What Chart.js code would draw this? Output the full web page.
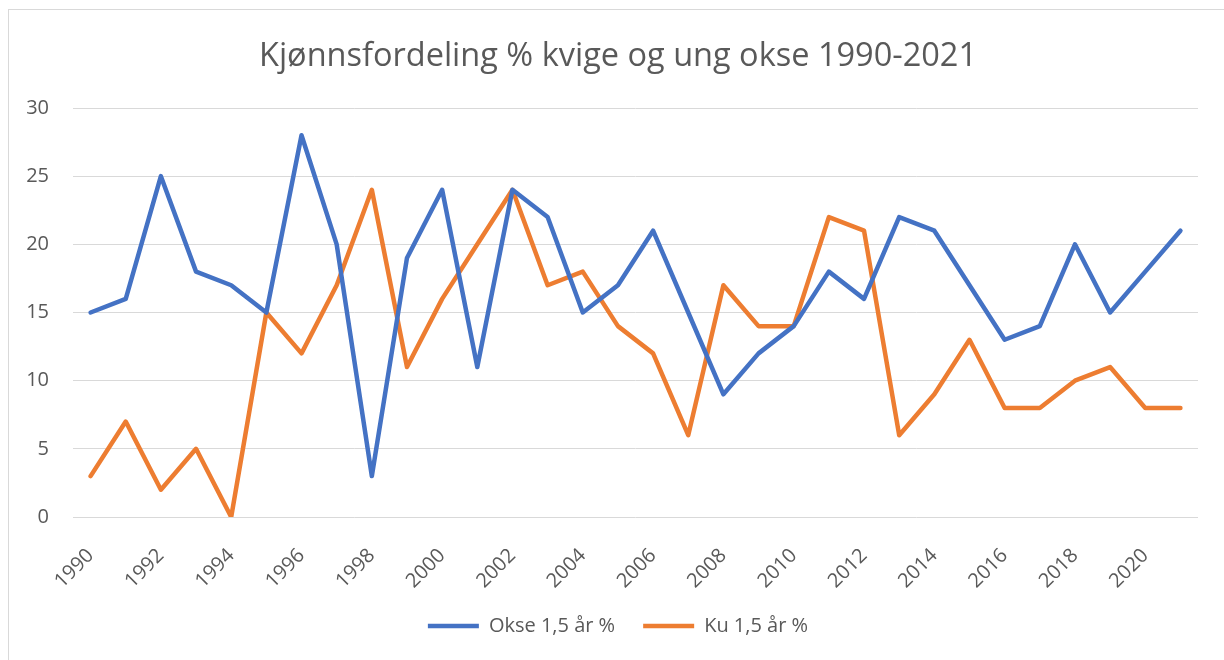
<!DOCTYPE html>
<html>
<head>
<meta charset="utf-8">
<title>Kjønnsfordeling</title>
<script src="https://cdn.jsdelivr.net/npm/chart.js@4"></script>
<style>
  html, body { margin: 0; padding: 0; background: #fff; overflow: hidden; width: 1224px; height: 660px; }
  #frame { position: absolute; left: 8px; top: 9px; width: 1240px; height: 680px;
           border-left: 1px solid #d9d9d9; border-top: 1px solid #d9d9d9; }
  #chart { position: absolute; left: 0; top: 0; }
</style>
</head>
<body>
<div id="frame"></div>
<canvas id="chart" width="1224" height="660"></canvas>
<script>
// Years on the x axis
const years = ['1990', '1991', '1992', '1993', '1994', '1995', '1996', '1997', '1998', '1999',
    '2000', '2001', '2002', '2003', '2004', '2005', '2006', '2007', '2008', '2009',
    '2010', '2011', '2012', '2013', '2014', '2015', '2016', '2017', '2018', '2019',
    '2020', '2021'];

// Okse 1,5 år %
const okse = [15, 16, 25, 18, 17, 15, 28, 20, 3, 19,
    24, 11, 24, 22, 15, 17, 21, 15, 9, 12,
    14, 18, 16, 22, 21, 17, 13, 14, 20, 15,
    18, 21];

// Ku 1,5 år %
const ku = [3, 7, 2, 5, 0, 15, 12, 17, 24, 11,
    16, 20, 24, 17, 18, 14, 12, 6, 17, 14,
    14, 22, 21, 6, 9, 13, 8, 8, 10, 11,
    8, 8];

const yTicks = [0, 5, 10, 15, 20, 25, 30];

const textColor = '#595959';
const gridColor = '#d9d9d9';

Chart.defaults.font.family = "'Open Sans', sans-serif";
Chart.defaults.color = textColor;

function lineDataset(label, data, color) {
    return {
        label: label,
        data: data,
        borderColor: color,
        backgroundColor: color,
        borderWidth: 4.5,
        borderJoinStyle: 'round',
        borderCapStyle: 'round',
        pointRadius: 0,
        pointHoverRadius: 0,
        tension: 0,
        fill: false
    };
}

const ctx = document.getElementById('chart').getContext('2d');
new Chart(ctx, {
    type: 'line',
    data: {
        labels: years,
        datasets: [
            lineDataset('Okse 1,5 år %', okse, '#4472c4'),
            lineDataset('Ku 1,5 år %', ku, '#ed7d31')
        ]
    },
    options: {
        responsive: false,
        animation: false,
        devicePixelRatio: 1,
        layout: {
            padding: { left: 12, right: 0, top: 9, bottom: 14 }
        },
        plugins: {
            title: {
                display: true,
                text: 'Kjønnsfordeling % kvige og ung okse 1990-2021',
                color: textColor,
                font: { size: 32.5, weight: 'normal' },
                padding: { top: 28, bottom: 32 }
            },
            legend: {
                position: 'bottom',
                labels: {
                    usePointStyle: true,
                    pointStyle: 'line',
                    pointStyleWidth: 51,
                    color: textColor,
                    font: { size: 20 },
                    padding: 28
                }
            },
            tooltip: { enabled: false }
        },
        scales: {
            x: {
                offset: true,
                grid: { display: false },
                border: { display: false },
                ticks: {
                    autoSkip: false,
                    minRotation: 45,
                    maxRotation: 45,
                    padding: 19,
                    color: textColor,
                    font: { size: 20 },
                    callback: function (value, index) {
                        return index % 2 === 0 ? this.getLabelForValue(value) : null;
                    }
                },
                afterFit: function (scale) { scale.height = 71; }
            },
            y: {
                min: 0,
                max: 30,
                afterBuildTicks: function (scale) {
                    scale.ticks = yTicks.map(v => ({ value: v }));
                },
                grid: { color: gridColor, lineWidth: 1, drawTicks: false },
                border: { display: false },
                ticks: {
                    padding: 24,
                    color: textColor,
                    font: { size: 20 }
                },
                afterFit: function (scale) { scale.width = 61; }
            },
            // empty axis on the right keeps the plot clear of the right edge
            yRight: {
                position: 'right',
                display: true,
                grid: { display: false },
                border: { display: false },
                ticks: { display: false },
                afterFit: function (scale) { scale.width = 26; }
            }
        }
    }
});
</script>
</body>
</html>
